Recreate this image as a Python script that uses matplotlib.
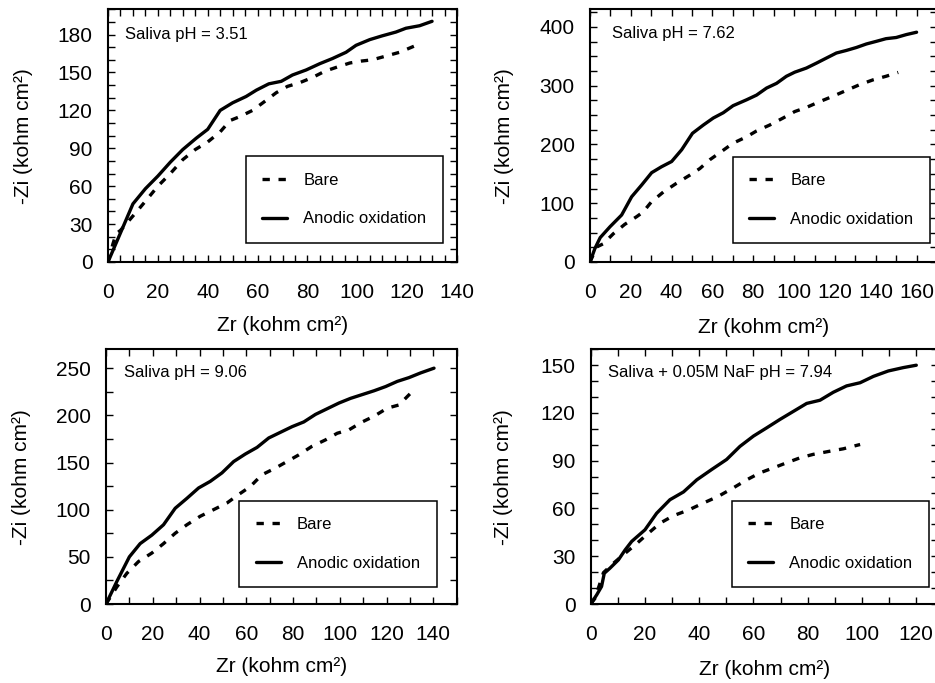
import matplotlib
matplotlib.use("Agg")
import matplotlib.pyplot as plt
from matplotlib.ticker import MultipleLocator

plt.rcParams["font.family"] = ["Liberation Sans", "DejaVu Sans"]

# --- data (kohm cm2) ---
# pH 3.51
zr_bare_351 = [0, 2, 3.3, 5, 10.7, 15.4, 20, 25, 30, 35, 40, 45, 49, 52.8, 58, 62.8,
               67.5, 72, 77, 82, 87, 91.5, 97, 101.5, 106, 111.5, 117, 123]
zi_bare_351 = [0, 14.5, 22.5, 25, 38, 49, 60, 70, 81, 89, 95, 103, 112, 115, 120, 127,
               134, 139, 142, 146, 151, 154, 157.5, 159, 160, 163, 166, 171]
zr_anod_351 = [0, 10, 15, 20, 25, 30, 35.4, 40, 45, 50, 55.4, 59.5, 64.5, 69.5, 74,
               79.5, 85, 90, 95.5, 99.5, 105, 110, 115.5, 119.5, 125, 130]
zi_anod_351 = [0, 46, 58, 68, 79, 89, 98, 105, 120, 126, 131, 136, 141, 143, 148,
               152, 157, 161, 166, 171.5, 176, 179, 182, 185, 187, 190.5]

# pH 7.62
zr_bare_762 = [0, 3.3, 6.5, 11.4, 17, 22.8, 26, 30, 35.9, 42.4, 49, 53.8, 58.7, 64.4,
               70, 76.7, 81.6, 88, 94.6, 100.3, 106, 112.6, 119, 125.6, 132, 138.7,
               145, 151]
zi_bare_762 = [0, 25.6, 31, 48, 64, 77, 85, 102, 119, 134, 148, 159, 174, 188,
               202, 213, 223, 233, 245, 256, 263, 273, 282, 292, 301.6, 310,
               316, 322.6]
zr_anod_762 = [0, 2.4, 5, 9.8, 15.5, 20.4, 25.3, 30.2, 35, 40, 44.9, 50.2, 55.5, 60.4,
               65.3, 70.1, 76.7, 81.6, 86.5, 91.4, 96.2, 100.3, 106, 111, 115.8,
               120.7, 125.6, 130.5, 135.4, 140.3, 145, 150, 155, 160]
zi_anod_762 = [0, 23, 41.5, 60, 80, 111, 131, 152, 162, 171, 191, 219, 233, 245,
               254, 266, 276, 284, 296, 304, 316, 323, 330, 338.5, 347,
               355.6, 360, 365, 371, 375.5, 380, 382, 387, 391]

# pH 9.06
zr_bare_906 = [0, 4.6, 8.9, 13.9, 19.6, 24.6, 29.6, 34.6, 40.3, 46, 51.7, 56.7, 61.7,
               66.7, 72.4, 77.4, 82.4, 88, 93.9, 98.9, 103.9, 109.6, 114.6, 120.3,
               125.3, 130.3]
zi_bare_906 = [0, 18, 32.5, 45, 54, 64, 75, 84, 93, 100, 107, 116, 124.5,
               137, 144, 151, 158, 167, 174, 181, 184.6, 193, 199, 207.6,
               211, 223.5]
zr_anod_906 = [0, 4.6, 10, 14.6, 19.6, 24.6, 29.6, 34.6, 39.6, 44.6, 49.6, 54.6, 59.6,
               64.6, 69.6, 74.6, 79.6, 84.6, 89.6, 94.6, 99.6, 104.6, 109.6, 114.6,
               119.6, 124.6, 129.6, 134.6, 140.3]
zi_anod_906 = [0, 23.7, 50, 64, 73, 84, 101.5, 112, 123, 130, 139, 151, 159,
               166, 176, 182, 188, 193, 201, 207, 213, 218, 222, 226,
               230.5, 236, 240, 245, 250]

# Saliva + 0.05M NaF, pH 7.94
zr_bare_naf = [0, 1.6, 4.7, 8.4, 12, 16.3, 20.6, 25.6, 30.5, 36, 41.5, 47, 52.6,
               57.5, 62.4, 67.3, 72.2, 77.1, 82, 88.2, 93.1, 99.3]
zi_bare_naf = [0, 3.6, 19.7, 25.6, 30.9, 37, 43.5, 50.8, 55.5, 59, 63.4, 67.6, 73,
               78, 82.4, 85.5, 88.7, 91.8, 94, 96, 97.5, 100.2]
zr_anod_naf = [0, 2.2, 4, 5, 7.1, 10.2, 12.7, 15.1, 20, 24.3, 29.2, 34.2, 39.1, 44.6,
               50.1, 55, 60, 64.9, 69.8, 74.7, 79.6, 84.5, 89.4, 94.3, 99.3, 104.2,
               109.7, 115.2, 120]
zi_anod_naf = [0, 5.7, 11, 19.3, 22.5, 27.7, 34, 39.3, 46.6, 57, 65.5, 70.4, 78, 84.5,
               90.8, 99, 105.5, 110.7, 116, 121, 126, 128, 133, 137, 139, 143,
               146.4, 148.5, 150]

titles = ["Saliva pH = 3.51", "Saliva pH = 7.62",
          "Saliva pH = 9.06", "Saliva + 0.05M NaF pH = 7.94"]

W, H = 935, 683
fig = plt.figure(figsize=(W / 100, H / 100), dpi=100)


def px_axes(left, right, top, bottom):
    """Axes from pixel edges (origin top-left)."""
    return fig.add_axes([left / W, 1 - bottom / H, (right - left) / W, (bottom - top) / H])


panels = [
    # pixel box, xlim, ylim, x major/minor, y major/minor, text pos, legend anchor, label coords
    dict(box=(108, 457, 9.3, 262), xlim=140, ylim=200, xt=(20, 5), yt=(30, 10),
         txt=(7, 180), leg=(0.960, 0.075), lab=(-0.215, -0.215),
         bare=(zr_bare_351, zi_bare_351), anod=(zr_anod_351, zi_anod_351)),
    dict(box=(590, 937, 9.3, 262), xlim=170, ylim=430, xt=(20, 10), yt=(100, 25),
         txt=(10.6, 388), leg=(0.980, 0.074), lab=(-0.22, -0.22),
         bare=(zr_bare_762, zi_bare_762), anod=(zr_anod_762, zi_anod_762)),
    dict(box=(106, 456.7, 349.3, 604), xlim=150, ylim=270, xt=(20, 10), yt=(50, 25),
         txt=(7.7, 245.7), leg=(0.943, 0.066), lab=(-0.215, -0.21),
         bare=(zr_bare_906, zi_bare_906), anod=(zr_anod_906, zi_anod_906)),
    dict(box=(590.7, 938, 349.3, 604), xlim=128, ylim=160, xt=(20, 10), yt=(30, 10),
         txt=(6.5, 145.4), leg=(0.974, 0.066), lab=(-0.225, -0.22),
         bare=(zr_bare_naf, zi_bare_naf), anod=(zr_anod_naf, zi_anod_naf)),
]

for p, title in zip(panels, titles):
    ax = px_axes(*p["box"])
    ax.plot(*p["bare"], color="black", lw=2.4, dashes=(2.2, 2.6), label="Bare")
    ax.plot(*p["anod"], color="black", lw=2.4, solid_capstyle="round",
            solid_joinstyle="round", label="Anodic oxidation")

    ax.set_xlim(0, p["xlim"])
    ax.set_ylim(0, p["ylim"])
    ax.xaxis.set_major_locator(MultipleLocator(p["xt"][0]))
    ax.xaxis.set_minor_locator(MultipleLocator(p["xt"][1]))
    ax.yaxis.set_major_locator(MultipleLocator(p["yt"][0]))
    ax.yaxis.set_minor_locator(MultipleLocator(p["yt"][1]))
    ax.tick_params(which="both", direction="in", top=True, right=True,
                   length=5, width=1.0, labelsize=15)
    ax.tick_params(axis="y", which="both", pad=11)
    ax.tick_params(axis="x", which="both", pad=15)
    for s in ax.spines.values():
        s.set_linewidth(1.5)

    ax.set_xlabel("Zr (kohm cm²)", fontsize=15)
    ax.set_ylabel("-Zi (kohm cm²)", fontsize=15)
    ax.yaxis.set_label_coords(p["lab"][0], 0.5)
    ax.xaxis.set_label_coords(0.5, p["lab"][1])

    ax.text(p["txt"][0], p["txt"][1], title, fontsize=12, va="center", ha="left")

    leg = ax.legend(loc="lower right", bbox_to_anchor=p["leg"], borderaxespad=0,
                    fontsize=12, handlelength=1.5, handletextpad=0.95,
                    borderpad=1.0, labelspacing=1.4, fancybox=False,
                    framealpha=1, edgecolor="black")
    leg.get_frame().set_linewidth(1.1)

fig.savefig("out.png", dpi=100)
